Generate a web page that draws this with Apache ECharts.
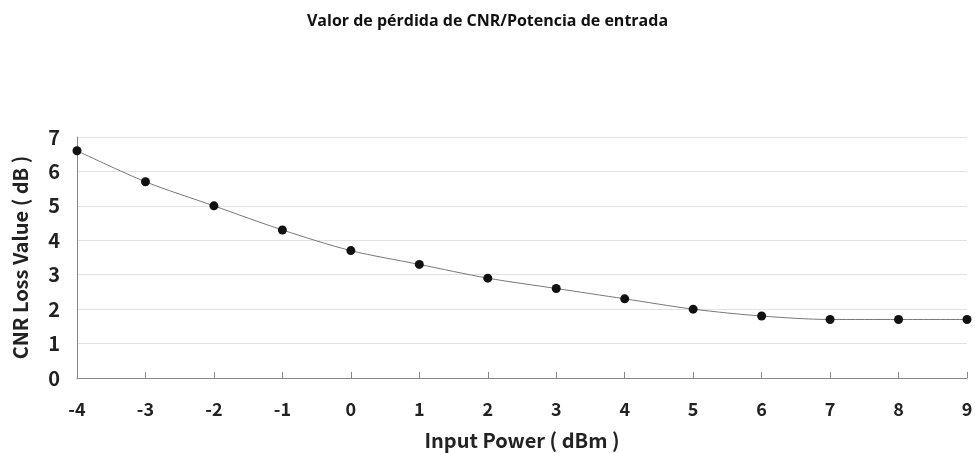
<!DOCTYPE html>
<html>
<head>
<meta charset="utf-8">
<script src="https://cdn.jsdelivr.net/npm/echarts@6/dist/echarts.min.js"></script>
<style>
    html, body { margin: 0; padding: 0; background: #fff; }
    #main { width: 975px; height: 453px; }
</style>
</head>
<body>
<div id="main"></div>
<script>
// potencia de entrada (dBm)
var inputPower = ['-4', '-3', '-2', '-1', '0', '1', '2', '3', '4', '5', '6', '7', '8', '9'];
// perdida CNR (dB)
var cnrLoss = [6.6, 5.7, 5.0, 4.3, 3.7, 3.3, 2.9, 2.6, 2.3, 2.0, 1.8, 1.7, 1.7, 1.7];

var chart = echarts.init(document.getElementById('main'));

var boldFont = '"Noto Sans CJK SC", "Open Sans", sans-serif';

var option = {
    animation: false,
    title: {
        text: 'Valor de pérdida de CNR/Potencia de entrada',
        left: 'center',
        top: 8,
        textStyle: { fontSize: 16, fontWeight: 'bold', color: '#111', fontFamily: '"Open Sans", sans-serif' }
    },
    grid: { left: 77, right: 8, top: 137, bottom: 75, outerBoundsMode: 'none', containLabel: false },
    xAxis: {
        type: 'category',
        data: inputPower,
        boundaryGap: false,
        name: 'Input Power ( dBm )',
        nameLocation: 'middle',
        nameGap: 52,
        nameTextStyle: { fontSize: 20, fontWeight: 'bold', color: '#222', fontFamily: boldFont },
        axisLine: { lineStyle: { color: '#888', width: 1 } },
        axisTick: { inside: true, length: 6, lineStyle: { color: '#888' } },
        axisLabel: { fontSize: 18, fontWeight: 'bold', color: '#222', margin: 22, fontFamily: boldFont },
        splitLine: { show: false }
    },
    yAxis: {
        type: 'value',
        min: 0,
        max: 7,
        interval: 1,
        name: 'CNR Loss Value ( dB )',
        nameLocation: 'middle',
        nameGap: 47,
        nameTextStyle: { fontSize: 20, fontWeight: 'bold', color: '#222', fontFamily: boldFont },
        axisLine: { show: true, lineStyle: { color: '#888', width: 1 } },
        axisTick: { show: false },
        axisLabel: { fontSize: 20, fontWeight: 'bold', color: '#222', margin: 17, fontFamily: boldFont },
        splitLine: { lineStyle: { color: '#e2e2e2', width: 1 } }
    },
    series: [{
        type: 'line',
        data: cnrLoss,
        smooth: 0.3,
        symbol: 'circle',
        symbolSize: 9,
        itemStyle: { color: '#111' },
        lineStyle: { color: '#777', width: 1 }
    }]
};

chart.setOption(option);
</script>
</body>
</html>
